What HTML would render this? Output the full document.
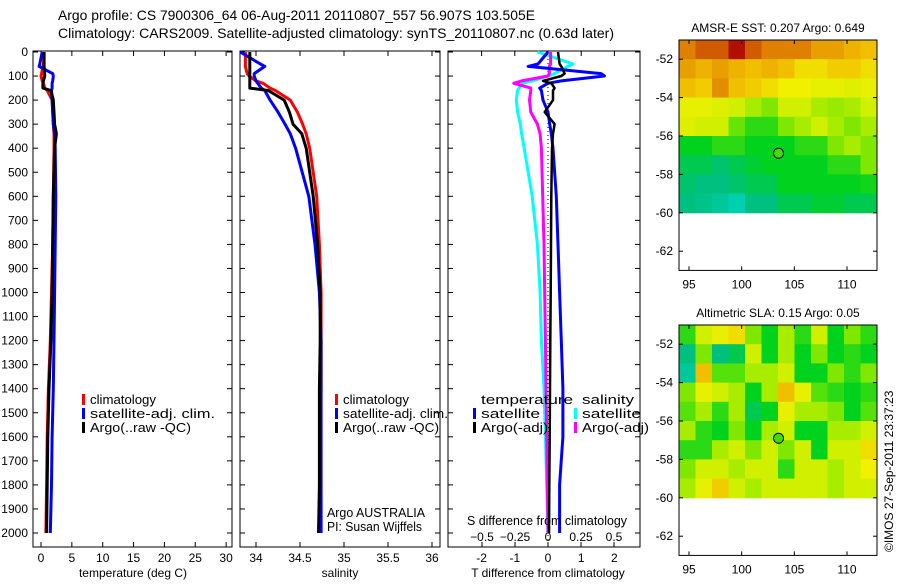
<!DOCTYPE html>
<html><head><meta charset="utf-8"><style>
body{margin:0;background:#fff;width:900px;height:580px;overflow:hidden}
svg{font-family:"Liberation Sans",sans-serif;font-size:12px}
</style></head><body>
<svg id="c" width="900" height="580">
<text x="58" y="20" font-size="14" textLength="477" lengthAdjust="spacingAndGlyphs">Argo profile: CS 7900306_64 06-Aug-2011 20110807_557 56.907S 103.505E</text>
<text x="58" y="38" font-size="14" textLength="556" lengthAdjust="spacingAndGlyphs">Climatology: CARS2009. Satellite-adjusted climatology: synTS_20110807.nc (0.63d later)</text>
</svg>
<script>
// ---- data ----
const depths=[0,50,60,90,100,120,130,150,160,200,250,300,340,400,600,800,1000,1200,1400,1600,1800,2000];
const tempClim=[0.5,0.4,0.3,0.1,0.0,0.2,0.4,0.6,1.0,1.8,1.9,2.0,2.1,2.1,2.0,1.9,1.7,1.5,1.2,1.0,0.9,0.8];
const tempSat=[0.2,-0.2,-0.3,1.9,2.0,1.9,1.8,1.8,1.7,1.8,1.9,2.0,2.2,2.3,2.4,2.3,2.2,2.1,2.0,1.8,1.7,1.5];
const tempArgo=[0.5,0.5,0.5,0.6,0.6,0.4,0.3,0.3,1.6,2.0,2.1,2.2,2.5,2.2,2.0,1.9,1.8,1.6,1.3,1.1,1.0,0.9];
const salClim=[33.88,33.88,33.88,33.9,33.92,34.0,34.08,34.16,34.22,34.39,34.47,34.53,34.57,34.61,34.69,34.72,34.74,34.74,34.74,34.73,34.73,34.72];
const salSat=[33.82,34.05,34.1,33.98,33.98,34.0,34.02,34.06,34.1,34.16,34.25,34.33,34.39,34.45,34.6,34.67,34.72,34.74,34.74,34.74,34.74,34.74];
const salArgo=[33.93,33.93,33.93,33.93,33.93,33.93,33.93,33.93,34.14,34.32,34.38,34.42,34.52,34.57,34.65,34.7,34.73,34.73,34.72,34.72,34.72,34.71];
const tDiffSat=[0,-0.3,-0.6,1.6,1.7,0.4,0.0,-0.25,-0.2,-0.15,0.0,0.05,0.1,0.15,0.25,0.3,0.35,0.4,0.45,0.45,0.35,0.35];
const tDiffArgo=[0.3,0.35,0.4,0.5,0.4,-0.15,0.1,0.2,0.15,0.15,-0.1,0.2,0.15,0.12,0.1,0.09,0.08,0.07,0.06,0.05,0.04,0.03];
const sDiffSat=[-0.08,0.19,0.15,0.05,0.0,-0.12,-0.19,-0.22,-0.23,-0.24,-0.23,-0.21,-0.2,-0.18,-0.12,-0.08,-0.06,-0.05,-0.03,-0.02,-0.01,0.0];
const sDiffArgo=[0.02,0.02,0.01,0.01,0.0,-0.2,-0.26,-0.13,-0.13,-0.14,-0.13,-0.08,-0.06,-0.05,-0.04,-0.03,-0.025,-0.02,-0.015,-0.01,-0.005,0.0];
const depthTicks=[0,100,200,300,400,500,600,700,800,900,1000,1100,1200,1300,1400,1500,1600,1700,1800,1900,2000];
const tTicks=[0,5,10,15,20,25,30];
const sTicks=[34,34.5,35,35.5,36];
const tdTicks=[-2,-1,0,1,2];
const sdTicks=[-0.5,-0.25,0,0.25,0.5];
const lonTicks=[95,100,105,110];
const latTicks=[-52,-54,-56,-58,-60,-62];
const sstGrid=[
[0.8,0.85,0.85,0.95,0.85,0.8,0.8,0.8,0.75,0.75,0.72,0.7],
[0.75,0.72,0.75,0.72,0.7,0.72,0.7,0.65,0.65,0.68,0.68,0.65],
[0.7,0.68,0.78,0.7,0.68,0.65,0.62,0.62,0.6,0.6,0.58,0.6],
[0.6,0.6,0.58,0.55,0.5,0.45,0.55,0.55,0.5,0.48,0.5,0.55],
[0.58,0.55,0.55,0.42,0.35,0.35,0.45,0.5,0.55,0.5,0.45,0.5],
[0.3,0.3,0.35,0.35,0.3,0.3,0.3,0.35,0.35,0.45,0.5,0.45],
[0.25,0.25,0.22,0.25,0.28,0.3,0.3,0.3,0.3,0.35,0.35,0.45],
[0.22,0.2,0.2,0.22,0.25,0.25,0.3,0.3,0.3,0.3,0.3,0.32],
[0.2,0.18,0.15,0.1,0.2,0.2,0.25,0.25,0.28,0.28,0.25,0.25]];
const slaGrid=[
[0.35,0.55,0.6,0.65,0.45,0.3,0.5,0.35,0.55,0.3,0.45,0.35],
[0.2,0.45,0.2,0.25,0.55,0.3,0.5,0.3,0.45,0.3,0.35,0.3],
[0.15,0.7,0.4,0.4,0.5,0.5,0.55,0.3,0.3,0.45,0.35,0.45],
[0.45,0.6,0.55,0.5,0.3,0.5,0.7,0.6,0.4,0.35,0.3,0.35],
[0.4,0.5,0.35,0.5,0.25,0.3,0.6,0.5,0.5,0.45,0.3,0.4],
[0.5,0.35,0.3,0.45,0.3,0.5,0.55,0.3,0.3,0.5,0.5,0.55],
[0.35,0.35,0.5,0.55,0.45,0.55,0.45,0.55,0.3,0.55,0.55,0.65],
[0.45,0.55,0.55,0.5,0.55,0.55,0.35,0.55,0.55,0.5,0.55,0.62],
[0.5,0.6,0.68,0.55,0.5,0.55,0.55,0.55,0.55,0.5,0.55,0.55]];
const argoLon=103.5, argoLat=-56.9;

// ---- drawing ----
const svg=document.getElementById('c');
const NS='http://www.w3.org/2000/svg';
function mk(tag,attrs,parent){const e=document.createElementNS(NS,tag);for(const k in attrs)e.setAttribute(k,attrs[k]);(parent||svg).appendChild(e);return e;}
function txt(x,y,s,anchor,parent,len){const t=mk('text',{x:x,y:y,'text-anchor':anchor||'start'},parent);if(len){t.setAttribute('textLength',len);t.setAttribute('lengthAdjust','spacingAndGlyphs');t.setAttribute('font-size','13');}t.textContent=s;return t;}
const yD=d=>52+d*0.2405;
function line(xs,color,xf,name,w){
  const p=xs.map((v,i)=>xf(v).toFixed(1)+','+yD(depths[i]).toFixed(1)).join(' ');
  const e=mk('polyline',{points:p,fill:'none',stroke:color,'stroke-width':w||3,'stroke-linejoin':'round'});
  
  
}
function frame(x0,x1,name){
  const r=mk('rect',{x:x0,y:51,width:x1-x0,height:496,fill:'none',stroke:'#000'});
  
  
  depthTicks.forEach(d=>{mk('line',{x1:x0,x2:x0+5,y1:yD(d),y2:yD(d),stroke:'#000'});mk('line',{x1:x1,x2:x1-5,y1:yD(d),y2:yD(d),stroke:'#000'});});
}
// panel 1
const xT=v=>41+v*6.17;
frame(33,232,'temperature-panel');
depthTicks.forEach(d=>{const t=txt(28,yD(d)+4,String(d),'end');});
tTicks.forEach(v=>{mk('line',{x1:xT(v),x2:xT(v),y1:547,y2:542,stroke:'#000'});mk('line',{x1:xT(v),x2:xT(v),y1:51,y2:56,stroke:'#000'});txt(xT(v),562,String(v),'middle');});
txt(133,577,'temperature (deg C)','middle');
line(tempClim,'#f00',xT,'temp-climatology-line');
line(tempSat,'#00f',xT,'temp-satellite-line');
line(tempArgo,'#000',xT,'temp-argo-line');
// panel 2
const xS=v=>256+(v-34)*88;
frame(240,440,'salinity-panel');
sTicks.forEach(v=>{mk('line',{x1:xS(v),x2:xS(v),y1:547,y2:542,stroke:'#000'});mk('line',{x1:xS(v),x2:xS(v),y1:51,y2:56,stroke:'#000'});txt(xS(v),562,String(v),'middle');});
txt(340,577,'salinity','middle');
line(salClim,'#f00',xS,'sal-climatology-line');
line(salSat,'#00f',xS,'sal-satellite-line');
line(salArgo,'#000',xS,'sal-argo-line');
// panel 3
const xTd=v=>548+v*33.2, xSd=v=>548+v*132;
frame(448,640,'difference-panel');
mk('line',{x1:548,x2:548,y1:51,y2:547,stroke:'#000','stroke-dasharray':'1,3'});
tdTicks.forEach(v=>{mk('line',{x1:xTd(v),x2:xTd(v),y1:51,y2:56,stroke:'#000'});txt(xTd(v),562,String(v),'middle');});
sdTicks.forEach(v=>{mk('line',{x1:xSd(v),x2:xSd(v),y1:547,y2:542,stroke:'#000'});txt(xSd(v),541,v===0?'0':String(v).replace('-','−'),'middle');});
line(sDiffSat,'#0ff',xSd,'sdiff-satellite-line');
line(sDiffArgo,'#f0f',xSd,'sdiff-argo-line');
line(tDiffSat,'#00f',xTd,'tdiff-satellite-line');
line(tDiffArgo,'#000',xTd,'tdiff-argo-line',2.5);
txt(467,525,'S difference from climatology','start',null,160);
txt(548,577,'T difference from climatology','middle');
// legends
function leg(x,y,c,s,name,len){const g=mk('g',{});mk('rect',{x:x,y:y-10,width:3,height:11,fill:c},g);txt(x+8,y,s,'start',g,len);}
leg(82,404,'#f00','climatology','legend-climatology',66);
leg(82,418,'#00f','satellite-adj. clim.','legend-satellite',125);
leg(82,432,'#000','Argo(..raw -QC)','legend-argo',101);
leg(335,404,'#f00','climatology','legend-climatology-2',66);
leg(335,418,'#00f','satellite-adj. clim.','legend-satellite-2',105);
leg(335,432,'#000','Argo(..raw -QC)','legend-argo-2',96);
txt(481,404,'temperature','start',null,92);txt(582,404,'salinity','start',null,52);
leg(473,418,'#00f','satellite','legend-t-satellite',59);
leg(473,432,'#000','Argo(-adj)','legend-t-argo',67);
leg(574,418,'#0ff','satellite','legend-s-satellite',59);
leg(574,432,'#f0f','Argo(-adj)','legend-s-argo',67);
txt(327,517,'Argo AUSTRALIA','start',null,98);txt(327,531,'PI: Susan Wijffels','start',null,95);
// maps
const cmap=[[0.1,[0,208,176]],[0.2,[0,192,128]],[0.3,[0,210,30]],[0.45,[128,232,0]],[0.55,[208,240,0]],[0.62,[240,240,0]],[0.7,[240,192,0]],[0.8,[224,128,0]],[0.95,[176,16,0]]];
function col(v){if(v<=cmap[0][0])return cmap[0][1];for(let i=1;i<cmap.length;i++){if(v<=cmap[i][0]){const a=cmap[i-1],b=cmap[i],t=(v-a[0])/(b[0]-a[0]);return a[1].map((c,k)=>Math.round(c+(b[1][k]-c)*t));}}return cmap[cmap.length-1][1];}
function map(top,grid,title,name){
  const x0=679,x1=877,lat0=-51.0,pxDeg=19.2;
  const xL=l=>689+(l-95)*(158/15), yL=la=>top+(lat0-la)*pxDeg;
  const g=mk('g',{});
  txt(778,top-8,title,'middle',g);
  const cw=(x1-x0)/grid[0].length;
  grid.forEach((row,r)=>row.forEach((v,c)=>{const cell=mk('rect',{x:(x0+c*cw).toFixed(1),y:yL(-51-r).toFixed(1),width:(cw+0.5).toFixed(1),height:(pxDeg+0.5).toFixed(1),fill:'rgb('+col(v).join(',')+')'},g);}));
  mk('rect',{x:x0,y:yL(-60.05),width:x1-x0,height:yL(-63)-yL(-60.05),fill:'#fff'},g);
  mk('rect',{x:x0,y:top,width:x1-x0,height:yL(-63)-top,fill:'none',stroke:'#000'},g);
  latTicks.forEach(la=>{mk('line',{x1:x0,x2:x0+4,y1:yL(la),y2:yL(la),stroke:'#000'},g);mk('line',{x1:x1,x2:x1-4,y1:yL(la),y2:yL(la),stroke:'#000'},g);txt(673,yL(la)+4,String(la),'end',g);});
  lonTicks.forEach(l=>{mk('line',{x1:xL(l),x2:xL(l),y1:top,y2:top+4,stroke:'#000'},g);mk('line',{x1:xL(l),x2:xL(l),y1:yL(-63),y2:yL(-63)-4,stroke:'#000'},g);txt(xL(l),yL(-63)+18,String(l),'middle',g);});
  const m=mk('circle',{cx:xL(argoLon),cy:yL(argoLat),r:5,fill:'#44dd00',stroke:'#000'},g);
  
}
map(40,sstGrid,'AMSR-E SST: 0.207 Argo: 0.649','sst-map');
map(325,slaGrid,'Altimetric SLA: 0.15 Argo: 0.05','sla-map');
const cr=txt(0,0,'©IMOS 27-Sep-2011 23:37:23','start');
cr.setAttribute('transform','translate(893,552) rotate(-90)');

</script>
</body></html>
